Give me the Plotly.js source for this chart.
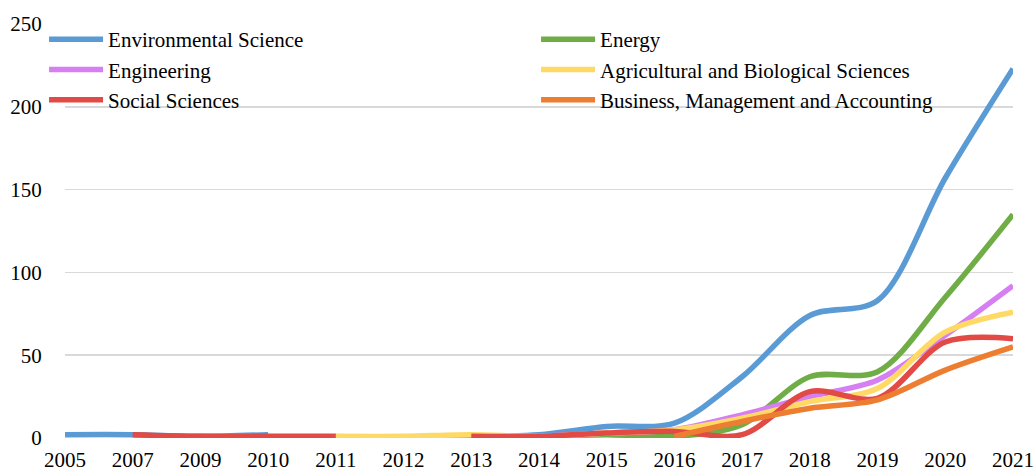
<!DOCTYPE html>
<html>
<head>
<meta charset="utf-8">
<script src="https://cdn.plot.ly/plotly-3.0.1.min.js"></script>
<style>html,body{margin:0;padding:0;background:#fff;}#chart{width:1035px;height:474px;}</style>
</head>
<body>
<div id="chart"></div>
<script>
const years = ['2005','2007','2009','2010','2011','2012','2013','2014','2015','2016','2017','2018','2019','2020','2021'];
const environmentalScience = [2, 2, 1, 2, null, 0, 1, 2, 7, 9, 37, 74, 83, 157, 223];
const energy = [null, null, null, null, null, null, 0, 1, 2, 1, 8, 37, 40, 85, 135];
const engineering = [null, null, null, null, null, null, null, 1, 3, 5, 14, 25, 35, 62, 92];
const agricultural = [null, null, null, null, 1, 1, 2, 1, 3, 5, 12, 22, 30, 64, 76];
const socialSciences = [null, 2, 1, 1, 1, null, 1, 1, 3, 4, 2, 28, 24, 58, 60];
const business = [null, null, null, null, null, null, null, null, null, 1, 10, 18, 23, 41, 55];

const seriesNames = ['Environmental Science','Energy','Engineering','Agricultural and Biological Sciences','Social Sciences','Business, Management and Accounting'];
const seriesData = [environmentalScience, energy, engineering, agricultural, socialSciences, business];
const colors = ['#5B9BD5','#70AD47','#D67FF2','#FFD966','#E24A46','#ED7D31'];

const traces = seriesData.map((d, i) => ({
  x: years, y: d, name: seriesNames[i], type: 'scatter', mode: 'lines',
  connectgaps: false,
  line: {color: colors[i], width: 5.5, shape: 'spline', smoothing: 0.9}
}));

const font = {family: '"Liberation Serif", "DejaVu Serif", serif', size: 21, color: '#000'};
const layout = {
  width: 1035, height: 474,
  margin: {l: 65, r: 22, t: 24, b: 36},
  paper_bgcolor: '#fff', plot_bgcolor: '#fff',
  font: font,
  showlegend: true,
  legend: {orientation: 'h', x: -0.0221, xanchor: 'left', y: 1.012, yanchor: 'top',
           entrywidth: 423, entrywidthmode: 'pixels', itemwidth: 54,
           bgcolor: 'rgba(0,0,0,0)', font: font, traceorder: 'normal', tracegroupgap: 0},
  xaxis: {type: 'category', range: [0, 14], showgrid: false, zeroline: false, showline: false,
          ticks: 'outside', ticklen: 3, tickcolor: 'rgba(0,0,0,0)', tickfont: font, fixedrange: true},
  yaxis: {range: [0, 250], dtick: 50, showgrid: true, gridcolor: '#D9D9D9', gridwidth: 1.5,
          zeroline: false, showline: false, ticks: 'outside', ticklen: 18, tickcolor: 'rgba(0,0,0,0)',
          tickfont: font, fixedrange: true}
};
Plotly.newPlot('chart', traces, layout, {displayModeBar: false, staticPlot: true});
</script>
</body>
</html>
